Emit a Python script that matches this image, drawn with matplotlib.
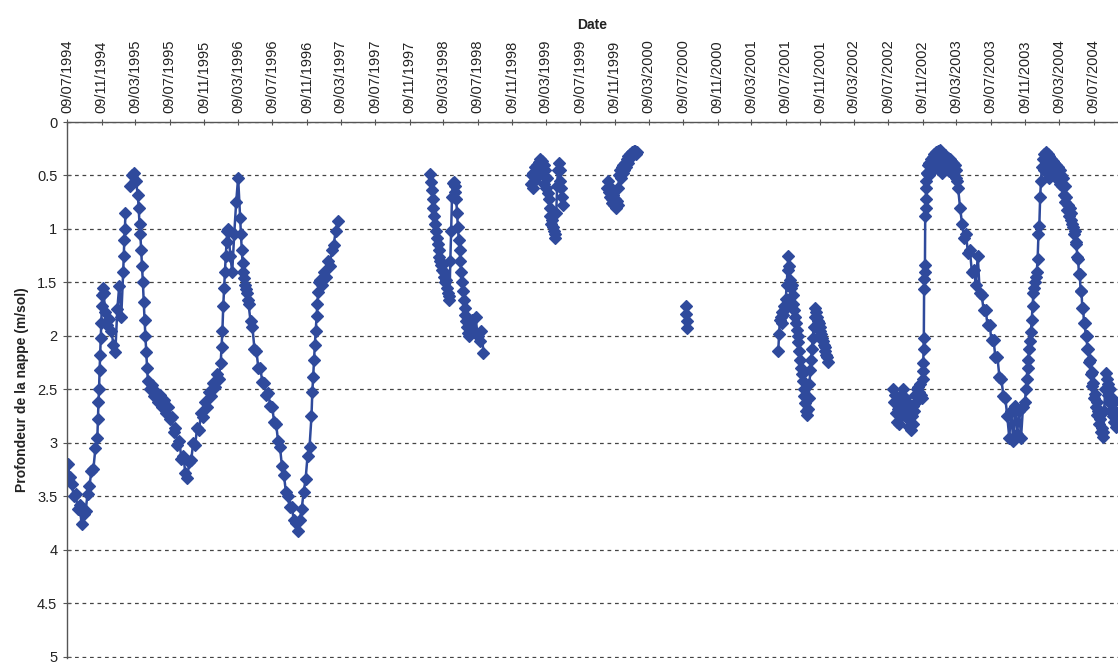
import numpy as np
import pandas as pd
import matplotlib
matplotlib.use('Agg')
import matplotlib.pyplot as plt
import matplotlib.dates as mdates
from matplotlib.ticker import FuncFormatter, MultipleLocator

nan = np.nan

# water table depth (m below ground)
# each segment: start date, sampling step (days) of each block, depths of each block
seg1_start = '1994-07-12'
seg1_steps = [7, 2, 7, 2, 7, 7, 3, 7, 3, 7, 3, 7, 3, 7]
seg1_depth = [
    [3.20, 3.32, 3.38, 3.50, 3.48, 3.62, 3.58, 3.76, 3.66, 3.64, 3.48, 3.40, 3.26, 3.24, 3.05],
    [2.95, 2.78, 2.62, 2.50, 2.32, 2.18, 2.02, 1.88, 1.72, 1.62, 1.55],
    [1.60, 1.78, 1.90, 1.84, 1.95, 2.08, 2.15, 1.75, 1.53, 1.82],
    [1.40, 1.25, 1.10, 1.00, 0.85],
    [nan, nan],
    [0.60, 0.50, 0.48, 0.55],
    [0.68, 0.80, 0.95, 1.05, 1.20, 1.35, 1.50, 1.68, 1.85, 2.00, 2.15, 2.30],
    [2.42, 2.50, 2.46, 2.56, 2.52, 2.62, 2.55, 2.66, 2.60, 2.72, 2.66, 2.78, 2.76, 2.90,
     2.86, 3.02, 2.98, 3.15, 3.12, 3.28, 3.33, 3.18, 3.16, 3.00, 3.02, 2.86, 2.88, 2.72,
     2.76, 2.62, 2.66, 2.52, 2.56, 2.44, 2.48, 2.36, 2.40],
    [2.25, 2.10, 1.95, 1.72, 1.55, 1.40, 1.25, 1.12, 1.02],
    [1.00, 1.25, 1.40, 1.05, 0.75, 0.52],
    [0.90, 1.05, 1.20, 1.32, 1.40, 1.46, 1.52, 1.56, 1.60, 1.66],
    [1.70, 1.86, 1.92, 2.12, 2.14, 2.30, 2.30, 2.43, 2.44, 2.55, 2.53, 2.65, 2.66, 2.80,
     2.82, 2.98, 3.04, 3.22, 3.30, 3.46, 3.50, 3.60, 3.60, 3.72, 3.75, 3.82, 3.72, 3.62,
     3.46, 3.34, 3.12, 3.04],
    [2.75, 2.52, 2.38, 2.22, 2.08, 1.95, 1.81, 1.70, 1.59, 1.50],
    [1.48, 1.52, 1.40, 1.45, 1.30, 1.35, 1.20, 1.15, 1.02, 0.93],
]

seg2_start = '1998-01-21'
seg2_steps = [3, 3, 7]
seg2_depth = [
    [0.49, 0.56, 0.64, 0.72, 0.80, 0.88, 0.95, 1.02, 1.08, 1.14, 1.20, 1.26, 1.30, 1.34,
     1.38, 1.33, 1.40, 1.45, 1.50, 1.48, 1.55, 1.60, 1.63, 1.66],
    [1.30, 1.02, 0.70, 0.57, 0.56, 0.60, 0.65, 0.72, 0.85, 0.98, 1.10, 1.20, 1.30, 1.40,
     1.50, 1.58, 1.66, 1.74, 1.80, 1.86, 1.92, 1.97, 2.00],
    [1.90, 1.85, 1.95, 1.82, 2.00, 2.05, 1.95, 2.16],
]

seg3_start = '1999-01-15'
seg3_steps = [3]
seg3_depth = [
    [0.58, 0.50, 0.62, 0.48, 0.55, 0.42, 0.52, 0.40, 0.48, 0.37, 0.45, 0.35, 0.42, 0.36,
     0.50, 0.40, 0.58, 0.45, 0.62, 0.52, 0.66, 0.72, 0.80, 0.88, 0.95, 0.92, 0.98, 1.02,
     1.05, 1.08, 0.85, 0.60, 0.45, 0.38, 0.45, 0.55, 0.62, 0.70, 0.78],
]

seg4_start = '1999-10-14'
seg4_steps = [3]
seg4_depth = [
    [0.62, 0.55, 0.65, 0.70, 0.62, 0.72, 0.76, 0.68, 0.78, 0.72, 0.80, 0.74, 0.78, 0.62,
     0.50, 0.45, 0.52, 0.42, 0.48, 0.40, 0.45, 0.38, 0.42, 0.35, 0.38, 0.32, 0.35, 0.30,
     0.32, 0.28, 0.30, 0.27, 0.29, 0.27, 0.30, 0.28],
]

seg5_start = '2000-07-20'
seg5_steps = [1]
seg5_depth = [[1.72, 1.79, 1.86, 1.93]]

seg6_start = '2001-06-13'
seg6_steps = [3]
seg6_depth = [
    [2.14, 1.98, 1.85, 1.82, 1.88, 1.78, 1.80, 1.72, 1.75, 1.65, 1.52, 1.38, 1.25, 1.35,
     1.48, 1.55, 1.52, 1.62, 1.70, 1.76, 1.82, 1.88, 1.94, 2.00, 2.06, 2.14, 2.22, 2.30,
     2.36, 2.42, 2.50, 2.56, 2.63, 2.70, 2.74, 2.68, 2.58, 2.45, 2.32, 2.22, 2.12, 2.02,
     1.92, 1.82, 1.74, 1.78, 1.82, 1.86, 1.88, 1.92, 1.95, 1.98, 2.02, 2.05, 2.08, 2.10,
     2.14, 2.18, 2.20, 2.24],
]

seg7_start = '2002-07-27'
seg7_steps = [3, 1, 3, 7, 3, 3, 3, 3]
seg7_depth = [
    [2.50, 2.62, 2.55, 2.72, 2.60, 2.80, 2.68, 2.82, 2.62, 2.75, 2.55, 2.68, 2.50, 2.62,
     2.58, 2.70, 2.62, 2.78, 2.70, 2.85, 2.72, 2.88, 2.75, 2.82, 2.65, 2.70, 2.55, 2.62,
     2.50, 2.55, 2.48, 2.52, 2.45, 2.55, 2.58],
    [2.40, 2.33, 2.25, 2.12, 2.02, 1.56, 1.47, 1.40, 1.34, 0.88, 0.80, 0.72, 0.62, 0.55, 0.48],
    [0.48, 0.40, 0.50, 0.38, 0.47, 0.35, 0.45, 0.33, 0.44, 0.30, 0.42, 0.28, 0.40, 0.27,
     0.38, 0.26, 0.45, 0.28, 0.48, 0.30, 0.42, 0.31, 0.40, 0.33, 0.44, 0.34, 0.46, 0.35,
     0.45, 0.36, 0.48, 0.38, 0.50, 0.40, 0.52, 0.45, 0.55],
    [0.62, 0.80, 0.95, 1.08, 1.05, 1.22, 1.20, 1.40, 1.38, 1.52, 1.25, 1.60, 1.62, 1.76,
     1.76, 1.90, 1.90, 2.04, 2.04, 2.20, 2.20, 2.38, 2.40, 2.56, 2.58, 2.75, 2.95, 2.70,
     2.98, 2.65, 2.92, 2.70, 2.95, 2.66],
    [2.62, 2.50, 2.40, 2.30, 2.22, 2.12, 2.05, 1.96, 1.85, 1.72, 1.60, 1.55, 1.50, 1.45,
     1.40, 1.28, 1.05, 0.97, 0.70, 0.55, 0.42],
    [0.35, 0.45, 0.30, 0.42, 0.28, 0.48, 0.30, 0.52, 0.32, 0.45, 0.35, 0.48, 0.36, 0.50,
     0.38, 0.45, 0.40, 0.52, 0.42, 0.55, 0.45, 0.58, 0.50, 0.60, 0.52, 0.68, 0.60, 0.75,
     0.70, 0.82, 0.78, 0.88, 0.80, 0.92, 0.85, 0.95],
    [0.98, 1.05, 1.02, 1.14, 1.12, 1.26, 1.28, 1.42, 1.42, 1.58, 1.58, 1.74, 1.74, 1.88,
     1.88, 2.00, 2.00, 2.12, 2.12, 2.24, 2.22, 2.36, 2.34, 2.47, 2.44, 2.58, 2.54, 2.66,
     2.62, 2.74, 2.70, 2.82, 2.78, 2.90, 2.86, 2.94],
    [2.90, 2.70, 2.50, 2.35, 2.40, 2.55, 2.45, 2.62, 2.50, 2.70, 2.58, 2.75, 2.62, 2.80,
     2.70, 2.85, 2.75],
]

segments = [
    (seg1_start, seg1_steps, seg1_depth),
    (seg2_start, seg2_steps, seg2_depth),
    (seg3_start, seg3_steps, seg3_depth),
    (seg4_start, seg4_steps, seg4_depth),
    (seg5_start, seg5_steps, seg5_depth),
    (seg6_start, seg6_steps, seg6_depth),
    (seg7_start, seg7_steps, seg7_depth),
]


def build(start, steps, blocks):
    dates, vals = [], []
    t = pd.Timestamp(start)
    for step, block in zip(steps, blocks):
        for v in block:
            dates.append(t)
            vals.append(v)
            t = t + pd.Timedelta(days=step)
    return pd.Series(vals, index=pd.DatetimeIndex(dates))


plt.rcParams['font.family'] = ['Liberation Sans', 'DejaVu Sans']

fig = plt.figure(figsize=(11.18, 6.66), dpi=100)
ax = fig.add_axes([67 / 1118, 8 / 666, 1051 / 1118, 536 / 666])

blue = '#2F4A9C'
for start, steps, blocks in segments:
    s = build(start, steps, blocks)
    ax.plot(s.index, s.values, color=blue, lw=1.8, marker='D', ms=5.8,
            mfc=blue, mec=blue, mew=0.9)

ax.set_xlim(pd.Timestamp('1994-07-09'), pd.Timestamp('2004-10-04'))
ax.set_ylim(5.01, 0)

ax.xaxis.tick_top()
ax.xaxis.set_label_position('top')
ax.xaxis.set_major_locator(mdates.MonthLocator(bymonth=(3, 7, 11), bymonthday=9))
ax.xaxis.set_major_formatter(mdates.DateFormatter('%d/%m/%Y'))
plt.setp(ax.get_xticklabels(), rotation=90, ha='center', va='bottom')
ax.tick_params(axis='x', direction='inout', length=5, width=0.8, colors='#555555',
               labelcolor='#222222', labelsize=10.5, pad=4)

ax.yaxis.set_major_locator(MultipleLocator(0.5))
ax.yaxis.set_major_formatter(FuncFormatter(lambda v, p: '%g' % v))
ax.tick_params(axis='y', direction='inout', length=6, width=0.8, colors='#555555',
               labelcolor='#222222', labelsize=10.5, pad=4)

ax.yaxis.grid(True, linestyle=(0, (3, 3)), color='#444444', linewidth=0.9)
ax.set_axisbelow(True)

for side in ['bottom', 'right']:
    ax.spines[side].set_visible(False)
for side in ['top', 'left']:
    ax.spines[side].set_color('#555555')
    ax.spines[side].set_linewidth(1.0)

ax.set_xlabel('Date', fontsize=10, fontweight='bold', color='#222222', labelpad=7)
ax.set_ylabel('Profondeur de la nappe (m/sol)', fontsize=10, fontweight='bold',
              color='#222222', labelpad=6)

fig.savefig('out.png', dpi=100)
